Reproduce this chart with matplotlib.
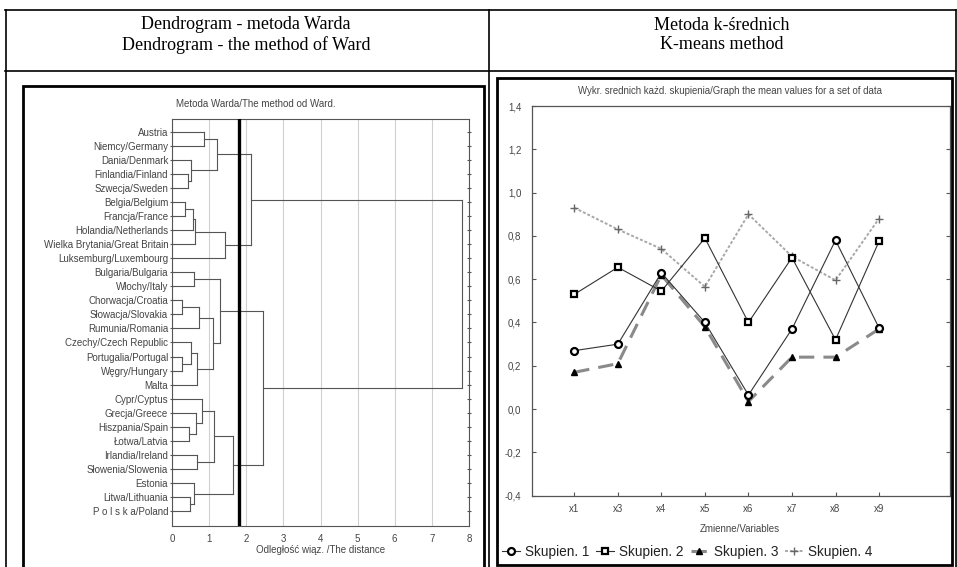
import matplotlib
matplotlib.use("Agg")
import matplotlib.pyplot as plt
from matplotlib.lines import Line2D
from matplotlib.patches import Rectangle

W, H = 957, 567

# ---------------- data ----------------
header_left = "Dendrogram - metoda Warda\nDendrogram - the method of Ward"
header_right = "Metoda k-średnich\nK-means method"

countries = [
    "Austria", "Niemcy/Germany", "Dania/Denmark", "Finlandia/Finland",
    "Szwecja/Sweden", "Belgia/Belgium", "Francja/France", "Holandia/Netherlands",
    "Wielka Brytania/Great Britain", "Luksemburg/Luxembourg", "Bulgaria/Bulgaria",
    "Włochy/Italy", "Chorwacja/Croatia", "Słowacja/Slovakia", "Rumunia/Romania",
    "Czechy/Czech Republic", "Portugalia/Portugal", "Węgry/Hungary", "Malta",
    "Cypr/Cyptus", "Grecja/Greece", "Hiszpania/Spain", "Łotwa/Latvia",
    "Irlandia/Ireland", "Słowenia/Slowenia", "Estonia", "Litwa/Lithuania",
    "P o l s k a/Poland",
]
# merges: node ids (leaves 0..27, new clusters 28..)
merge_a = [0, 3, 2, 28, 5, 32, 33, 34, 31, 10, 12, 38, 16, 15, 41, 39, 37,
           21, 20, 19, 23, 47, 26, 25, 49, 44, 36]
merge_b = [1, 4, 29, 30, 6, 7, 8, 9, 35, 11, 13, 14, 17, 40, 18, 42, 43,
           22, 45, 46, 24, 48, 27, 50, 51, 52, 53]
merge_h = [0.85, 0.42, 0.51, 1.20, 0.35, 0.57, 0.62, 1.43, 2.13, 0.60, 0.28,
           0.74, 0.28, 0.51, 0.67, 1.11, 1.29, 0.47, 0.64, 0.80, 0.66, 1.14,
           0.49, 0.59, 1.63, 2.46, 7.82]
cut_distance = 1.8
dist_ticks = [0, 1, 2, 3, 4, 5, 6, 7, 8]

variables = ["x1", "x3", "x4", "x5", "x6", "x7", "x8", "x9"]
skupien1 = [0.27, 0.30, 0.63, 0.40, 0.065, 0.37, 0.78, 0.375]
skupien2 = [0.53, 0.655, 0.545, 0.79, 0.40, 0.70, 0.32, 0.775]
skupien3 = [0.17, 0.21, 0.62, 0.38, 0.035, 0.24, 0.24, 0.37]
skupien4 = [0.93, 0.83, 0.74, 0.565, 0.90, 0.705, 0.595, 0.88]
series_names = ["Skupien. 1", "Skupien. 2", "Skupien. 3", "Skupien. 4"]
mean_ticks = [-0.4, -0.2, 0.0, 0.2, 0.4, 0.6, 0.8, 1.0, 1.2, 1.4]

# ---------------- figure ----------------
plt.rcParams['font.family'] = ['Liberation Sans', 'DejaVu Sans']
fig = plt.figure(figsize=(W / 100, H / 100), dpi=100)


def fx(x):
    return x / W


def fy(y):
    return 1 - y / H


def hline(x0, x1, y, lw=1.0, color='black'):
    fig.add_artist(Line2D([fx(x0), fx(x1)], [fy(y), fy(y)], lw=lw, color=color))


def vline(x, y0, y1, lw=1.0, color='black'):
    fig.add_artist(Line2D([fx(x), fx(x)], [fy(y0), fy(y1)], lw=lw, color=color))


# table
hline(5, 956, 10, lw=1.2)
hline(5, 956, 71, lw=1.2)
vline(5.5, 10, 567, lw=1.2)
vline(489, 10, 567, lw=1.2)
vline(955.5, 10, 567, lw=1.2)
fig.text(fx(246), fy(35), header_left, ha='center', va='center',
         family=['Liberation Serif'], fontsize=13, linespacing=1.2)
fig.text(fx(722), fy(35), header_right, ha='center', va='center',
         family=['Liberation Serif'], fontsize=13, linespacing=1.2)

# panel frames
fig.add_artist(Rectangle((fx(23), fy(575)), fx(484 - 23), (575 - 86) / H,
                         fill=False, lw=2.0, ec='black'))
fig.add_artist(Rectangle((fx(497), fy(565)), fx(952 - 497), (565 - 78) / H,
                         fill=False, lw=2.0, ec='black'))

txtc = '#444444'
spc = '#555555'

# ---------------- dendrogram ----------------
ax1 = fig.add_axes([fx(172), fy(526), fx(469 - 172), (526 - 119) / H])
n = len(countries)
ypos = list(range(n))
hts = [0.0] * n
lc = '#555555'
for a, b, h in zip(merge_a, merge_b, merge_h):
    for c in (a, b):
        ax1.plot([hts[c], h], [ypos[c], ypos[c]], color=lc, lw=0.8)
    ax1.plot([h, h], [ypos[a], ypos[b]], color=lc, lw=0.8)
    ypos.append((ypos[a] + ypos[b]) / 2)
    hts.append(h)
ax1.axvline(cut_distance, color='black', lw=2.4, zorder=5)
ax1.set_xlim(dist_ticks[0], dist_ticks[-1])
ax1.set_ylim(n - 1 + 1.06, -0.9)
ax1.set_xticks(dist_ticks)
ax1.set_xticklabels([str(t) for t in dist_ticks])
ax1.set_yticks(range(n))
ax1.set_yticklabels(countries)
ax1.grid(axis='x', color='#d0d0d0', lw=0.8)
ax1.set_axisbelow(True)
ax1.tick_params(axis='x', length=0, pad=6, labelsize=7, labelcolor=txtc)
ax1.tick_params(axis='y', which='both', left=True, right=True, direction='out',
                length=2.5, color=spc, labelsize=7, labelcolor=txtc, pad=1.5)
ax1.tick_params(axis='y', right=True, direction='inout')
for s in ax1.spines.values():
    s.set_color(spc)
    s.set_linewidth(0.8)
fig.text(fx(256), fy(104), "Metoda Warda/The method od Ward.", ha='center',
         va='center', fontsize=7, color=txtc)
fig.text(fx(321), fy(550), "Odległość wiąz. /The distance", ha='center',
         va='center', fontsize=7, color=txtc)

# ---------------- k-means means ----------------
ax2 = fig.add_axes([fx(532.3), fy(495.7), fx(950 - 532.3), (495.7 - 106) / H])
xs = list(range(len(variables)))
l1, = ax2.plot(xs, skupien1, color='#333333', lw=0.8, marker='o', ms=5,
               mfc='white', mec='black', mew=1.6, zorder=4)
l2, = ax2.plot(xs, skupien2, color='#333333', lw=0.8, marker='s', ms=5,
               mfc='white', mec='black', mew=1.6, zorder=4)
l3, = ax2.plot(xs, skupien3, color='#8a8a8a', lw=2.2, ls=(0, (5, 3)),
               marker='^', ms=4, mfc='black', mec='black', zorder=3)
l4, = ax2.plot(xs, skupien4, color='#a8a8a8', lw=1.4, ls=(0, (1.5, 1)),
               marker='+', ms=6, mec='#666666', mew=1.0, zorder=2)
ax2.set_xlim(-0.965, 8.63)
ax2.set_ylim(mean_ticks[0], mean_ticks[-1])
ax2.set_xticks(xs)
ax2.set_xticklabels(variables)
ax2.set_yticks(mean_ticks)
ax2.set_yticklabels([f"{v:.1f}".replace('.', ',') for v in mean_ticks])
ax2.tick_params(axis='both', direction='in', length=3, color=spc,
                labelsize=7, labelcolor=txtc)
ax2.tick_params(axis='y', right=True, pad=8)
ax2.tick_params(axis='x', pad=6)
for s in ax2.spines.values():
    s.set_color(spc)
    s.set_linewidth(0.9)
fig.text(fx(730), fy(91),
         "Wykr. srednich każd. skupienia/Graph the mean values for a set of data",
         ha='center', va='center', fontsize=6.9, color=txtc)
fig.text(fx(740), fy(529), "Zmienne/Variables", ha='center', va='center',
         fontsize=7, color=txtc)
ax2.legend([l1, l2, l3, l4], series_names, loc='center left',
           bbox_to_anchor=(fx(502), fy(552)), bbox_transform=fig.transFigure,
           ncol=4, frameon=False, fontsize=9.8, handlelength=1.3,
           handletextpad=0.4, columnspacing=0.5, borderpad=0,
           borderaxespad=0, labelcolor='#222222')

fig.savefig("out.png", dpi=100)
